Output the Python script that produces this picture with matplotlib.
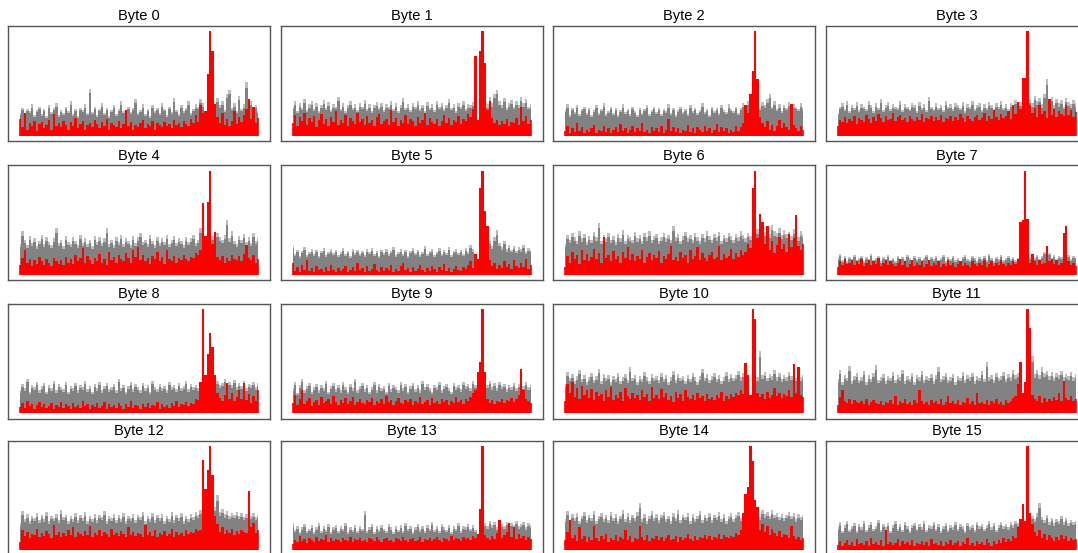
import numpy as np
import matplotlib
matplotlib.use("Agg")
import matplotlib.pyplot as plt

plt.rcParams['font.family'] = ['Liberation Sans', 'DejaVu Sans']

titles = [f"Byte {i}" for i in range(16)]

# Wrong-key-guess envelope (grey) and correct-key trace (red), % of each panel's peak
g0 = [22,27,18,26,24,30,20,25,28,21,26,19,29,23,27,31,20,25,22,28,24,33,21,26,19,27,25,30,22,45,
      23,28,20,26,31,22,27,19,25,29,21,26,33,24,20,28,23,27,35,22,25,30,21,26,19,29,24,27,22,31,
      26,20,28,23,36,25,21,29,24,27,33,22,26,30,28,35,31,20,8,12,30,26,36,29,33,25,40,44,27,31,
      24,38,26,30,51,28,33,25,29,24]
r0 = [16,8,22,6,12,9,14,5,11,13,7,10,15,6,21,9,12,8,14,10,6,13,9,17,7,11,14,6,10,12,
      8,15,11,7,13,9,16,6,12,10,8,14,7,11,25,9,13,6,10,8,12,15,7,11,9,14,6,12,10,8,
      13,9,11,7,15,10,12,8,14,11,9,16,12,20,13,29,22,24,59,100,81,30,18,12,22,10,16,9,14,24,
      11,18,13,20,26,35,16,28,12,17]
g1 = [28,33,24,31,27,35,25,30,33,26,31,24,29,34,27,32,25,30,28,37,26,31,24,29,33,27,30,25,31,28,
      34,26,30,24,29,32,27,31,25,30,28,33,26,31,24,29,36,27,30,25,31,28,33,26,29,24,32,27,30,25,
      33,28,31,26,29,35,27,30,24,31,28,33,26,30,29,32,12,6,9,28,34,30,37,31,40,44,33,29,36,27,
      31,34,28,33,29,37,31,35,28,30]
r1 = [12,20,9,18,14,22,10,17,13,19,8,15,21,11,16,9,18,13,24,10,15,12,20,9,17,14,11,22,13,16,
      10,19,12,15,9,18,21,11,14,16,10,25,13,17,9,15,12,20,11,16,14,9,18,12,15,22,10,17,13,11,
      16,9,14,20,12,17,10,15,13,19,11,16,14,21,18,26,76,15,81,100,70,25,33,17,12,15,10,14,11,16,
      9,13,12,17,10,28,14,19,11,15]
g2 = [25,30,20,27,23,29,21,26,28,22,27,20,25,29,22,26,31,21,24,28,22,27,20,25,30,23,26,21,28,24,
      20,27,22,26,29,21,25,28,23,27,21,26,24,30,22,27,20,25,28,23,26,21,29,24,27,22,25,31,23,26,
      20,28,24,27,22,29,25,23,30,26,24,28,22,27,31,25,33,20,8,10,14,27,32,29,35,40,28,33,26,30,
      24,29,27,32,25,30,28,26,31,27]
r2 = [5,9,3,7,4,12,5,8,3,6,4,7,10,3,6,5,9,4,7,3,6,8,4,11,5,7,3,6,9,4,
      7,5,12,4,6,3,8,5,7,4,9,3,6,16,5,8,4,7,3,6,5,10,4,7,3,8,6,4,9,5,
      7,3,6,11,4,8,5,7,3,6,4,9,5,8,12,29,22,40,62,100,54,18,12,8,14,6,10,5,9,15,
      7,12,8,6,30,10,7,5,9,6]
g3 = [22,28,31,26,33,24,29,27,32,25,30,28,26,33,29,24,31,27,35,25,29,32,26,30,28,27,33,25,30,28,
      26,31,29,24,32,27,30,25,37,28,26,31,27,29,25,33,28,30,26,31,29,27,32,24,30,28,33,26,29,31,
      25,30,27,32,29,26,31,28,33,27,30,26,31,29,34,28,32,10,8,12,35,31,38,33,36,30,40,54,33,37,
      29,35,31,34,28,36,32,30,34,31]
r3 = [9,15,13,18,12,16,14,19,11,17,15,13,20,16,12,18,14,21,17,13,19,15,16,22,14,18,20,15,17,13,
      19,16,14,18,15,21,13,17,16,19,14,18,15,20,13,17,16,19,14,18,15,21,17,13,19,16,14,18,20,15,
      17,22,14,19,16,25,18,15,21,17,19,24,16,29,21,32,26,55,55,100,29,22,27,18,29,21,24,17,35,20,
      26,18,24,21,19,29,20,25,18,23]
g4 = [30,42,34,29,37,31,35,28,33,38,30,36,32,29,35,45,31,34,28,37,32,30,36,33,29,38,31,35,30,34,
      28,37,32,36,31,35,45,30,34,29,36,32,38,30,35,33,29,37,31,36,40,32,34,30,38,33,29,36,31,35,
      32,38,30,34,37,31,35,33,29,36,32,35,38,31,34,45,33,14,10,12,37,33,40,36,34,38,53,35,42,33,
      30,37,34,39,32,36,31,40,33,35]
r4 = [10,16,24,12,15,9,14,11,17,13,10,15,12,9,16,13,11,14,10,17,12,15,11,19,13,16,26,12,18,14,
      11,16,13,20,12,15,10,22,14,17,12,19,15,13,21,16,12,24,17,27,14,19,13,16,11,18,15,22,13,17,
      11,24,15,13,18,12,16,14,19,15,13,17,16,21,19,24,69,37,70,100,30,41,17,14,18,12,16,13,19,15,
      14,18,13,20,29,16,14,19,12,15]
g5 = [28,20,24,18,23,27,19,22,25,20,24,18,23,26,19,22,25,21,24,19,22,26,20,23,18,25,21,24,20,23,
      19,25,22,26,20,23,18,24,21,25,20,23,27,19,22,25,20,24,18,23,26,21,24,19,22,28,20,23,25,19,
      22,26,20,24,21,27,19,23,25,21,24,20,26,22,29,25,20,8,10,24,30,26,33,28,36,43,31,27,33,25,
      29,24,28,23,27,25,29,22,26,24]
r5 = [12,4,8,3,10,5,14,4,7,3,9,5,6,3,8,4,10,5,3,7,4,6,9,3,5,8,4,12,5,7,
      3,9,4,6,11,5,3,8,4,7,5,10,3,6,4,9,12,5,7,3,8,4,6,10,5,3,7,4,9,6,
      3,8,5,11,4,7,3,6,9,5,4,8,6,10,13,7,20,15,83,100,61,47,14,9,12,6,10,7,13,8,
      11,6,14,9,7,12,8,15,6,10]
g6 = [30,38,34,40,36,33,42,35,39,32,37,34,41,36,50,33,38,35,40,34,37,32,39,35,43,33,38,36,34,41,
      35,38,33,40,36,42,34,37,39,33,36,40,35,38,34,47,36,39,33,37,41,35,38,34,40,36,33,39,35,42,
      37,34,39,36,41,33,38,35,40,37,34,39,36,42,38,35,40,37,12,10,44,38,45,41,47,39,48,42,40,45,
      38,43,39,41,37,44,40,36,42,39]
r6 = [8,18,12,22,15,19,11,24,14,20,13,17,25,15,21,12,36,16,19,13,23,15,18,12,22,16,27,14,20,13,
      18,15,24,12,17,21,14,19,16,23,12,18,15,20,28,14,17,13,22,16,19,12,24,15,18,27,14,21,16,13,
      19,22,15,17,28,14,20,16,18,25,15,21,17,24,19,22,30,26,83,100,35,58,51,30,47,24,33,21,29,36,
      25,30,22,39,27,35,57,28,24,30]
g7 = [16,20,14,18,13,17,15,19,14,16,18,13,17,15,20,14,16,18,13,17,15,19,14,16,13,18,15,17,14,19,
      16,13,18,15,17,14,16,19,13,17,15,18,14,16,19,13,17,15,18,14,16,13,17,19,15,14,18,16,13,17,
      15,18,14,20,16,13,17,15,19,14,16,18,15,17,14,16,6,5,8,18,17,20,16,19,15,18,22,17,21,16,
      19,15,18,17,21,16,19,15,18,17]
r7 = [8,13,10,15,11,12,14,10,13,11,15,9,12,14,10,13,11,16,9,12,14,10,13,11,9,12,15,10,13,8,
      11,14,9,12,10,13,8,11,14,9,12,10,13,8,11,9,14,10,12,8,11,13,9,12,10,8,13,11,9,12,
      10,14,8,11,13,9,12,10,14,11,9,12,10,13,11,15,51,53,100,54,12,20,13,10,14,11,12,28,13,15,
      11,14,10,12,40,47,13,10,12,9]
g8 = [22,28,24,33,21,27,25,30,22,26,29,21,27,24,31,22,28,25,23,30,21,26,24,29,22,27,25,31,23,26,
      21,28,24,30,22,26,29,23,25,28,22,33,24,27,21,26,30,23,28,25,22,29,24,27,21,31,25,23,28,24,
      26,22,30,25,27,23,29,24,26,31,23,28,25,27,24,30,20,8,10,12,28,25,31,27,29,33,26,30,27,32,
      25,29,26,31,24,28,27,30,25,29]
r8 = [6,10,5,12,7,9,4,8,11,6,9,5,7,10,4,8,6,11,5,9,7,4,10,6,8,5,12,7,9,4,
      8,6,10,5,7,11,4,9,6,8,5,10,7,4,9,6,12,5,8,7,4,9,6,10,5,8,7,11,4,9,
      6,8,5,10,7,12,6,9,8,11,7,10,9,14,13,30,100,37,57,77,64,37,20,15,12,18,29,14,20,12,
      16,22,14,29,13,19,10,17,12,22]
g9 = [24,30,20,27,33,22,26,29,21,25,28,22,27,24,31,21,26,29,23,27,22,30,25,21,28,24,33,22,26,29,
      23,27,21,25,30,22,28,24,26,21,29,23,27,25,22,30,24,28,21,26,29,23,27,22,31,25,28,24,21,27,
      25,30,22,26,28,24,21,29,25,27,23,30,26,28,24,31,27,8,10,26,33,27,31,25,29,24,30,26,28,23,
      27,25,29,24,28,31,26,30,25,27]
r9 = [10,18,8,14,22,9,12,15,7,11,13,8,16,10,12,14,9,17,11,8,13,10,15,9,12,16,8,11,14,10,
      9,13,11,15,8,12,10,14,9,17,11,13,8,12,15,10,9,13,11,14,8,12,10,16,9,11,13,8,15,10,
      12,9,14,11,13,8,12,10,16,11,13,9,14,12,16,20,22,40,49,100,40,14,10,13,9,12,11,14,10,13,
      12,15,11,14,18,43,22,14,12,10]
g10 = [28,40,34,38,31,36,42,33,37,30,35,39,32,36,43,31,38,34,37,30,36,33,39,31,35,38,32,44,34,37,
       30,36,33,40,35,31,38,34,36,32,39,33,37,30,35,41,32,38,34,36,31,37,33,39,35,30,36,43,34,38,
       32,36,39,33,37,31,35,40,33,38,34,37,41,35,39,36,20,12,14,38,35,60,37,40,34,38,36,42,35,39,
       33,37,35,40,36,39,34,38,35,37]
r10 = [12,28,20,30,16,24,14,26,18,22,15,23,13,21,17,19,12,22,16,25,13,18,15,21,12,24,17,14,20,15,
       18,13,22,16,19,12,25,15,18,14,23,16,20,13,17,11,21,15,19,12,22,16,14,18,13,20,15,17,12,19,
       14,16,13,18,15,21,12,17,14,19,16,20,18,22,19,48,37,18,100,90,20,16,19,14,21,15,18,24,17,20,
       15,19,17,22,16,47,20,44,18,16]
g11 = [33,42,30,37,34,45,31,36,39,32,35,41,30,37,33,39,46,32,35,38,31,36,34,40,32,37,35,42,31,36,
       33,39,30,37,35,41,32,36,34,38,31,37,44,33,36,39,32,35,38,30,36,34,40,32,37,35,39,31,36,34,
       41,33,49,35,37,32,39,34,36,40,33,38,35,42,37,39,20,10,12,36,40,55,38,42,37,44,39,41,36,40,
       34,39,37,41,35,38,36,40,35,38]
r11 = [8,16,22,12,10,14,9,13,11,10,12,9,14,8,11,13,10,9,12,8,11,10,13,9,17,8,12,10,14,9,
       11,8,13,10,22,12,9,11,8,13,10,12,9,14,8,11,17,10,12,9,13,8,11,10,15,9,12,8,20,10,
       11,9,13,8,12,10,14,9,11,8,13,10,12,15,17,28,49,20,30,100,82,18,14,12,17,10,15,11,14,12,
       16,13,20,12,31,15,13,17,12,14]
g12 = [26,38,30,35,28,33,31,36,29,34,30,37,28,33,31,35,29,39,32,34,28,33,30,36,29,34,31,37,28,33,
       30,35,29,34,32,38,28,33,31,35,29,34,30,36,28,33,31,35,29,34,32,37,28,33,30,36,29,34,31,35,
       28,33,30,37,29,34,31,36,28,33,30,35,32,37,34,39,36,12,8,35,38,42,53,37,40,35,38,33,36,34,
       37,33,36,32,35,38,33,36,32,34]
r12 = [8,20,14,18,12,16,15,21,13,17,14,19,16,12,24,15,18,13,17,14,20,15,22,13,18,16,14,19,15,23,
       13,17,15,20,14,18,16,13,21,15,17,14,19,16,13,22,15,18,14,17,16,13,24,15,18,14,20,13,17,15,
       19,14,16,21,13,18,15,17,14,20,16,18,17,21,19,20,87,59,77,100,72,33,25,18,22,16,20,17,21,15,
       19,16,20,18,17,57,22,26,17,20]
g13 = [26,20,23,18,22,25,19,21,24,18,22,26,19,23,20,25,18,22,24,19,23,21,26,18,22,20,24,19,23,21,
       38,19,22,25,18,23,20,24,21,19,25,22,18,23,20,24,19,26,21,23,18,22,25,20,23,19,24,21,27,20,
       23,19,25,22,20,24,18,23,21,26,19,23,22,25,21,24,20,10,12,22,26,23,28,24,27,22,29,25,23,27,
       22,26,24,28,23,25,27,22,26,24]
r13 = [6,10,8,14,9,11,7,12,10,8,13,9,11,10,15,8,12,9,11,10,8,12,10,9,13,8,11,10,12,9,
       10,8,12,11,9,13,10,8,11,12,9,10,8,12,11,9,13,10,8,11,12,9,10,13,8,11,10,12,9,11,
       13,10,8,12,11,9,14,10,12,11,9,13,11,12,10,14,12,16,40,100,15,12,10,14,11,17,29,12,15,18,
       26,13,22,11,16,12,14,10,13,11]
g14 = [30,38,27,35,31,36,28,33,37,29,34,31,38,28,33,36,30,34,29,37,31,35,28,33,39,30,36,29,34,31,
       37,45,30,35,28,33,38,31,35,29,34,37,30,33,28,36,31,39,29,34,32,36,28,35,30,33,38,29,34,31,
       36,29,34,32,37,30,35,28,33,36,30,34,37,31,35,33,36,14,10,34,38,32,39,35,37,33,39,34,36,32,
       35,31,34,37,33,36,30,35,32,34]
r14 = [10,18,29,12,15,9,22,11,14,8,13,10,23,12,9,14,11,16,8,12,10,15,9,13,11,20,10,14,8,12,
       11,23,13,10,15,9,12,11,14,10,13,9,12,15,10,11,14,8,13,10,12,16,11,9,14,10,13,12,15,11,
       14,10,13,12,16,11,15,13,12,14,13,17,15,20,36,54,61,100,86,48,42,20,25,18,23,15,21,17,14,19,
       13,16,15,12,23,14,11,13,10,12]
g15 = [22,27,19,24,28,20,23,26,19,25,22,28,20,24,27,21,23,29,20,25,22,26,19,24,28,21,25,20,27,23,
       19,24,26,21,25,22,28,20,24,23,27,21,25,19,23,26,20,24,22,27,21,25,23,19,26,22,24,20,27,23,
       25,21,24,28,22,26,20,24,27,23,25,22,27,24,28,26,30,12,10,31,29,33,30,36,45,32,29,34,27,31,
       26,30,28,33,27,31,26,29,27,28]
r15 = [5,9,4,7,10,5,8,4,11,6,7,5,9,4,12,6,8,5,10,4,20,6,8,5,7,11,4,9,6,8,
       5,10,4,7,6,9,5,8,4,11,6,7,5,9,4,8,6,10,5,7,9,4,8,6,12,5,7,4,9,6,
       8,5,11,7,4,9,6,10,7,12,8,11,9,14,12,22,30,44,28,100,36,25,18,14,20,12,16,10,15,12,
       9,13,10,15,11,14,9,12,10,11]

gray_series = [g0, g1, g2, g3, g4, g5, g6, g7, g8, g9, g10, g11, g12, g13, g14, g15]
red_series = [r0, r1, r2, r3, r4, r5, r6, r7, r8, r9, r10, r11, r12, r13, r14, r15]

W, H = 1078, 553
fig = plt.figure(figsize=(W / 100, H / 100), dpi=100)

col_left = [8.3, 280.7, 553.3, 825.7]
row_top = [26.0, 165.3, 303.7, 440.7]
ax_w, ax_h = 262.0, 115.0

for i in range(16):
    r_i, c_i = divmod(i, 4)
    left = col_left[c_i] / W
    bottom = 1 - (row_top[r_i] + ax_h) / H
    ax = fig.add_axes([left, bottom, ax_w / W, ax_h / H])
    g = np.array(gray_series[i], dtype=float)
    rd = np.array(red_series[i], dtype=float)
    xg = np.arange(len(g))
    xr = np.arange(len(rd))
    ax.fill_between(xg, 0, g, step='mid', color='#bdbdbd', lw=0, zorder=1)
    ax.fill_between(xg, 0, g * 0.9, step='mid', color='#828282', lw=0, zorder=2)
    ax.fill_between(xr, 0, rd, step='mid', color='#ff0000', lw=0, zorder=3)
    ax.vlines(xr, 0, rd, color='#ff0000', lw=1.2, zorder=4)
    ax.set_xlim(-0.05 * (len(g) - 1), 1.05 * (len(g) - 1))
    top = max(rd.max(), g.max())
    ax.set_ylim(-0.05 * top, 1.05 * top)
    ax.set_xticks([])
    ax.set_yticks([])
    for s in ax.spines.values():
        s.set_color('#555555')
        s.set_linewidth(1.0)
    ax.set_title(titles[i], fontsize=10.5, pad=4)

fig.savefig('out.png', dpi=100)
